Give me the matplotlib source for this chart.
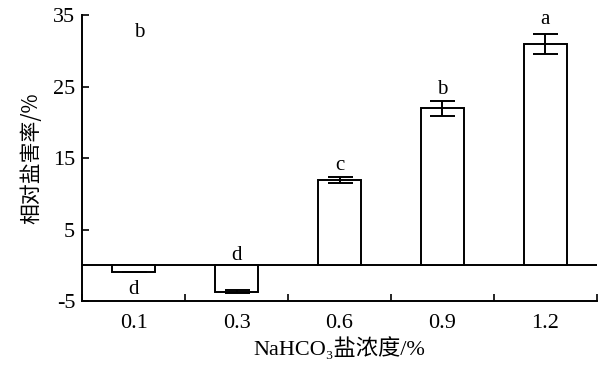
import matplotlib
matplotlib.use("Agg")
import matplotlib.pyplot as plt
import numpy as np

plt.rcParams['font.family'] = ['Liberation Serif', 'Noto Sans CJK SC', 'DejaVu Sans']
plt.rcParams['axes.unicode_minus'] = False

# 数据
conc = ["0.1", "0.3", "0.6", "0.9", "1.2"]
injury = [-1.0, -3.7, 11.9, 22.0, 31.0]
err = [0.0, 0.2, 0.4, 1.05, 1.4]
letters = ["d", "d", "c", "b", "a"]
letter_y = [-3.4, 1.4, 14.0, 24.6, 34.4]

fig = plt.figure(figsize=(6.09, 3.68), dpi=100)
ax = fig.add_axes([0.135, 0.182, 0.845, 0.777])

x = np.arange(len(conc))
ax.bar(x, injury, width=0.42, color="white", edgecolor="black", linewidth=1.4,
       yerr=err, capsize=9, error_kw=dict(elinewidth=1.4, capthick=1.4, ecolor="black"), zorder=3)
ax.axhline(0, color="black", lw=1.4, zorder=2)

for xi, lab, ly in zip(x, letters, letter_y):
    ax.text(xi, ly, lab, ha="center", va="center", fontsize=15)
# 左上角的 b
ax.text(0.05, 32.5, "b", ha="center", va="center", fontsize=15)

ax.set_xlim(-0.5, 4.5)
ax.set_ylim(-5, 35)
ax.set_yticks([-5, 5, 15, 25, 35])
ax.set_xticks(x)
ax.set_xticklabels(conc)
ax.set_xticks(np.arange(-0.5, 5, 1), minor=True)
ax.tick_params(axis="x", which="major", length=0, labelsize=16, pad=9)
ax.tick_params(axis="x", which="minor", direction="in", length=5, width=1.2)
ax.tick_params(axis="y", direction="in", length=5, width=1.2, labelsize=16, pad=5)

for s in ["top", "right"]:
    ax.spines[s].set_visible(False)
for s in ["left", "bottom"]:
    ax.spines[s].set_linewidth(1.4)

ax.set_ylabel("相对盐害率/%", fontsize=15, family=['Noto Sans CJK SC', 'DejaVu Sans'], labelpad=8)
ax.set_xlabel("NaHCO₃盐浓度/%", fontsize=16, labelpad=3)

fig.savefig("out.png", dpi=100)
